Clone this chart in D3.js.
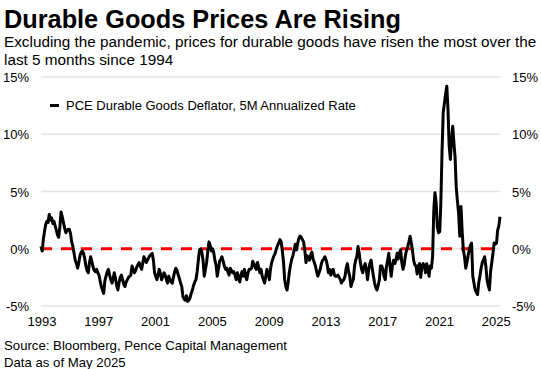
<!DOCTYPE html>
<html>
<head>
<meta charset="utf-8">
<script src="https://cdn.jsdelivr.net/npm/d3@7"></script>
<style>
  body { margin: 0; background: #fff; }
  text { font-family: "Liberation Sans", Arial, sans-serif; fill: #000; }
</style>
</head>
<body>
<div id="chart"></div>
<script>
// Monthly series, Jan 1993 .. May 2025 (PCE durable goods deflator, 5M annualized %)
const startMonth = new Date(1993, 0, 1);
const pceDurables = [
  // 1993
  0.2, -0.2, 0.8, 1.5, 2.1, 2.4, 2.3, 3.0, 2.5, 2.7, 2.2, 2.4,
  // 1994
  2.0, 1.6, 1.2, 1.0, 1.9, 3.2, 2.8, 2.3, 1.8, 1.4, 1.6, 1.7,
  // 1995
  1.7, 1.3, 0.6, 0.2, -0.4, -1.0, -1.3, -1.7, -1.2, -0.6, -0.3, -0.2,
  // 1996
  -0.4, -0.9, -1.5, -1.9, -2.1, -1.2, -0.7, -1.1, -1.6, -1.9, -2.0, -1.8,
  // 1997
  -2.1, -2.3, -2.8, -3.3, -3.6, -3.9, -2.8, -2.4, -2.0, -1.8, -2.3, -2.7,
  // 1998
  -3.0, -2.6, -2.1, -2.6, -3.2, -3.6, -3.0, -2.5, -2.3, -2.7, -3.1, -3.3,
  // 1999
  -2.9, -2.7, -2.5, -2.4, -2.3, -1.5, -1.8, -2.1, -1.9, -1.6, -1.4, -1.2,
  // 2000
  -1.5, -1.8, -1.3, -0.7, -0.9, -1.2, -1.0, -0.8, -0.6, -0.5, -0.4, -1.0,
  // 2001
  -2.1, -2.4, -2.7, -2.3, -1.8, -2.2, -2.7, -2.4, -2.1, -2.3, -2.7, -3.0,
  // 2002
  -2.4, -2.7, -2.9, -3.0, -2.5, -2.0, -1.7, -1.9, -2.3, -2.6, -3.0, -3.3,
  // 2003
  -4.2, -4.4, -4.5, -4.1, -4.6, -4.5, -4.3, -3.9, -3.6, -3.2, -2.9, -2.7,
  // 2004
  -2.0, -1.0, -0.1, 0.0, -0.3, -1.0, -2.4, -1.8, -1.2, -0.2, 0.6, 0.3,
  // 2005
  -0.2, 0.0, -0.3, -1.0, -1.4, -2.4, -1.8, -1.1, -0.9, -0.7, -1.1, -1.5,
  // 2006
  -1.8, -1.7, -2.0, -2.3, -1.7, -1.9, -2.1, -2.0, -2.3, -2.7, -2.1, -2.5,
  // 2007
  -2.9, -2.3, -2.0, -2.4, -1.8, -2.4, -2.7, -2.1, -1.8, -1.8, -1.7, -1.1,
  // 2008
  -1.3, -1.6, -1.8, -1.2, -1.6, -2.1, -1.8, -2.4, -2.7, -3.0, -2.4, -1.8,
  // 2009
  -2.2, -2.7, -1.8, -1.2, -0.9, -0.6, -0.4, 0.0, 0.3, 0.5, 0.8, 0.6,
  // 2010
  -0.2, -1.2, -2.7, -3.3, -3.6, -2.9, -2.0, -1.4, -0.9, -0.6, -0.1, 0.4,
  // 2011
  -0.1, 0.5, 0.9, 1.1, 1.0, 0.8, 0.6, -0.1, -1.2, -0.6, -0.8, -1.0,
  // 2012
  -0.5, -0.3, -0.9, -1.2, -1.5, -2.0, -2.4, -2.1, -1.8, -1.3, -1.0, -0.9,
  // 2013
  -0.7, -1.0, -1.4, -2.1, -1.8, -2.3, -1.9, -1.8, -2.3, -2.4, -2.4, -2.3,
  // 2014
  -2.5, -2.7, -3.0, -2.8, -2.7, -2.4, -1.7, -1.3, -2.0, -2.4, -3.3, -2.9,
  // 2015
  -2.7, -1.5, -1.0, -0.7, 0.2, -0.4, -1.2, -1.8, -2.1, -1.6, -1.3, -1.8,
  // 2016
  -2.7, -1.8, -1.3, -1.0, -1.7, -2.4, -3.0, -3.4, -3.6, -3.2, -2.7, -1.5,
  // 2017
  -1.5, -1.8, -2.4, -2.7, -1.6, -1.0, -0.4, -1.5, -2.4, -1.5, -1.0, -1.3,
  // 2018
  -1.0, -0.4, -0.9, -0.4, -0.1, -1.2, -1.8, -1.4, -0.6, -0.1, 0.2, 0.6,
  // 2019
  1.1, 0.5, -0.1, -1.0, -1.4, -1.5, -2.2, -1.5, -1.3, -2.5, -1.5, -1.3,
  // 2020
  -1.5, -2.1, -1.3, -1.7, -2.4, -1.5, -1.7, -0.7, 3.4, 4.9, 4.0, 1.9,
  // 2021
  1.4, 1.5, 4.0, 8.5, 11.9, 12.7, 13.5, 14.2, 12.2, 9.0, 7.8, 9.5,
  // 2022
  10.7, 9.2, 8.1, 5.4, 4.2, 3.1, 1.1, 3.7, 1.5, -0.1, -0.7, -1.7,
  // 2023
  -1.2, -0.6, -0.1, 0.3, 0.5, -2.4, -3.0, -3.6, -3.8, -4.0, -3.0, -2.4,
  // 2024
  -1.7, -1.2, -1.0, -0.7, -1.5, -2.7, -3.2, -3.6, -2.0, -1.2, -0.4, 0.5,
  // 2025
  0.4, 0.5, 1.6, 2.0, 2.8
];
const yTicks = [-5, 0, 5, 10, 15];
const xTickYears = [1993, 1997, 2001, 2005, 2009, 2013, 2017, 2021, 2025];
const seriesName = "PCE Durable Goods Deflator, 5M Annualized Rate";
const title = "Durable Goods Prices Are Rising";
const subtitle = [
  "Excluding the pandemic, prices for durable goods have risen the most over the",
  "last 5 months since 1994"
];
const sourceLines = ["Source: Bloomberg, Pence Capital Management", "Data as of May 2025"];

const width = 541, height = 369;
const plotLeft = 41, plotRight = 500, plotTop = 77, plotBottom = 306;

const data = pceDurables.map((v, i) => ({ date: d3.timeMonth.offset(startMonth, i), value: v }));

const svg = d3.select("#chart").append("svg").attr("width", width).attr("height", height);

const x = d3.scaleTime()
  .domain([startMonth, data[data.length - 1].date])
  .range([plotLeft, plotRight]);
const y = d3.scaleLinear().domain([-5, 15]).range([plotBottom, plotTop]);

// titles
svg.append("text").attr("x", 4).attr("y", 28)
  .style("font-size", "25.3px").style("font-weight", "bold").text(title);
svg.selectAll(".sub").data(subtitle).enter().append("text")
  .attr("class", "sub").attr("x", 4).attr("y", (d, i) => 47 + i * 18)
  .style("font-size", "15.3px").text(d => d);

// gridlines
svg.selectAll(".grid").data(yTicks).enter().append("line")
  .attr("class", "grid")
  .attr("x1", plotLeft).attr("x2", plotRight)
  .attr("y1", d => y(d)).attr("y2", d => y(d))
  .attr("stroke", "#e4e4e4").attr("stroke-width", 1.5);

// y labels both sides
svg.selectAll(".yl").data(yTicks).enter().append("text")
  .attr("class", "yl").attr("x", 29).attr("y", d => y(d) + 5)
  .attr("text-anchor", "end").style("font-size", "13px").text(d => d + "%");
svg.selectAll(".yr").data(yTicks).enter().append("text")
  .attr("class", "yr").attr("x", 512).attr("y", d => y(d) + 5)
  .attr("text-anchor", "start").style("font-size", "13px").text(d => d + "%");

// x labels
svg.selectAll(".xl").data(xTickYears).enter().append("text")
  .attr("class", "xl").attr("x", d => x(new Date(d, 0, 1)) + 1).attr("y", 326)
  .attr("text-anchor", "middle").style("font-size", "13px").text(d => d);

// zero line
svg.append("line")
  .attr("x1", plotLeft).attr("x2", plotRight)
  .attr("y1", y(0)).attr("y2", y(0))
  .attr("stroke", "#ff0000").attr("stroke-width", 3)
  .attr("stroke-dasharray", "11,9");

// series
const line = d3.line().x(d => x(d.date)).y(d => y(d.value));
svg.append("path").datum(data)
  .attr("d", line)
  .attr("fill", "none").attr("stroke", "#000").attr("stroke-width", 3)
  .attr("stroke-linejoin", "round");

// legend
svg.append("line").attr("x1", 50).attr("x2", 59).attr("y1", 105.5).attr("y2", 105.5)
  .attr("stroke", "#000").attr("stroke-width", 3);
svg.append("text").attr("x", 66).attr("y", 110).style("font-size", "13px").text(seriesName);

// source
svg.selectAll(".src").data(sourceLines).enter().append("text")
  .attr("class", "src").attr("x", 4).attr("y", (d, i) => 350 + i * 16.5)
  .style("font-size", "13.2px").text(d => d);
</script>
</body>
</html>
